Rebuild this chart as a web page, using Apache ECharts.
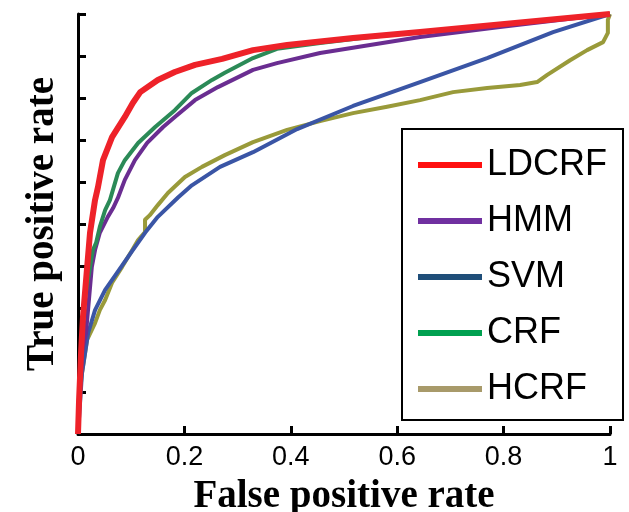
<!DOCTYPE html>
<html>
<head>
<meta charset="utf-8">
<script src="https://cdn.jsdelivr.net/npm/echarts@6/dist/echarts.min.js"></script>
<style>
  html, body { margin: 0; padding: 0; background: #fff; }
  #chart { width: 629px; height: 512px; }
</style>
</head>
<body>
<div id="chart"></div>
<script>
  // ROC curves, [false positive rate, true positive rate]
  var ldcrf = [[0, 0], [0.002, 0.08], [0.006, 0.2], [0.0094, 0.279], [0.0226, 0.479], [0.032, 0.557],
    [0.0376, 0.588], [0.047, 0.652], [0.064, 0.707], [0.088, 0.755], [0.103, 0.788], [0.117, 0.814],
    [0.15, 0.843], [0.182, 0.862], [0.22, 0.879], [0.271, 0.893], [0.329, 0.914], [0.393, 0.926],
    [0.517, 0.943], [0.643, 0.957], [1, 1]]
  var hmm = [[0, 0], [0.003, 0.1], [0.008, 0.2], [0.015, 0.24], [0.026, 0.398], [0.032, 0.438],
    [0.041, 0.479], [0.056, 0.517], [0.066, 0.538], [0.075, 0.562], [0.088, 0.605], [0.107, 0.652],
    [0.13, 0.693], [0.16, 0.731], [0.182, 0.755], [0.22, 0.795], [0.263, 0.826], [0.329, 0.867],
    [0.374, 0.883], [0.455, 0.907], [0.549, 0.926], [0.643, 0.945], [0.793, 0.969], [1, 1]]
  var svm = [[0, 0], [0.0075, 0.145], [0.019, 0.24], [0.032, 0.295], [0.051, 0.343], [0.073, 0.383],
    [0.103, 0.438], [0.126, 0.479], [0.15, 0.517], [0.188, 0.563], [0.214, 0.592], [0.267, 0.636],
    [0.329, 0.671], [0.412, 0.726], [0.517, 0.781], [0.643, 0.838], [0.769, 0.895], [0.893, 0.957], [1, 1]]
  var crf = [[0, 0], [0.004, 0.15], [0.01, 0.3], [0.028, 0.438], [0.034, 0.455], [0.041, 0.493],
    [0.051, 0.533], [0.06, 0.557], [0.075, 0.621], [0.088, 0.652], [0.113, 0.693], [0.145, 0.731],
    [0.182, 0.771], [0.214, 0.812], [0.252, 0.843], [0.276, 0.86], [0.329, 0.895], [0.374, 0.917],
    [0.455, 0.931], [0.549, 0.945], [0.643, 0.957], [1, 1]]
  var hcrf = [[0, 0], [0.002, 0.081], [0.0075, 0.145], [0.017, 0.224], [0.032, 0.264], [0.041, 0.295],
    [0.051, 0.319], [0.064, 0.36], [0.083, 0.398], [0.102, 0.438], [0.113, 0.462], [0.126, 0.481],
    [0.126, 0.51], [0.135, 0.521], [0.15, 0.545], [0.169, 0.574], [0.201, 0.612], [0.233, 0.636],
    [0.276, 0.664], [0.329, 0.695], [0.393, 0.724], [0.455, 0.745], [0.517, 0.764], [0.581, 0.779],
    [0.643, 0.795], [0.705, 0.814], [0.769, 0.824], [0.831, 0.831], [0.863, 0.838], [0.882, 0.855],
    [0.925, 0.89], [0.957, 0.914], [0.987, 0.933], [0.996, 0.955], [0.996, 0.986], [1, 1]]

  var names = ['LDCRF', 'HMM', 'SVM', 'CRF', 'HCRF']
  var lineColors = ['#ee2229', '#6a2d91', '#3a55a5', '#2b8a57', '#999a3a']
  var legendColors = ['#ff1010', '#7030a0', '#1f4e79', '#00a050', '#a89a6a']

  var chart = echarts.init(document.getElementById('chart'))

  function serie(name, data, color, width, z) {
    return {
      name: name,
      type: 'line',
      data: data,
      showSymbol: false,
      symbol: 'none',
      z: z,
      lineStyle: { color: color, width: width, join: 'round' },
      itemStyle: { color: color }
    }
  }

  chart.setOption({
    animation: false,
    backgroundColor: '#fff',
    grid: { left: 78, right: 19, top: 14, bottom: 78, outerBoundsMode: 'none', containLabel: false },
    legend: {
      orient: 'vertical',
      left: 402,
      top: 129,
      padding: [18, 16, 13, 16],
      borderColor: '#000',
      borderWidth: 2,
      backgroundColor: '#fff',
      itemWidth: 64,
      itemHeight: 6,
      itemGap: 20,
      icon: 'rect',
      textStyle: { fontFamily: 'Liberation Sans, Arial', fontSize: 36, lineHeight: 36, color: '#000' },
      data: names.map(function (n, i) {
        return { name: n, icon: 'rect', itemStyle: { color: legendColors[i] } }
      })
    },
    xAxis: {
      type: 'value',
      min: 0,
      max: 1,
      interval: 0.2,
      name: 'False positive rate',
      nameLocation: 'middle',
      nameGap: 43,
      nameTextStyle: { fontFamily: 'Liberation Serif, Times New Roman', fontWeight: 'bold', fontSize: 39, color: '#000' },
      axisLine: { lineStyle: { color: '#000', width: 3 } },
      axisTick: { inside: true, length: 8, lineStyle: { color: '#000', width: 3 } },
      axisLabel: { fontFamily: 'Liberation Sans, Arial', fontSize: 27, color: '#000', margin: 10 },
      splitLine: { show: false }
    },
    yAxis: {
      type: 'value',
      min: 0,
      max: 1,
      interval: 0.1,
      name: 'True positive rate',
      nameLocation: 'middle',
      nameGap: 16,
      nameTextStyle: { fontFamily: 'Liberation Serif, Times New Roman', fontWeight: 'bold', fontSize: 39, color: '#000' },
      axisLine: { lineStyle: { color: '#000', width: 3 } },
      axisTick: { inside: true, length: 8, lineStyle: { color: '#000', width: 3 } },
      axisLabel: { show: false },
      splitLine: { show: false }
    },
    series: [
      serie('LDCRF', ldcrf, lineColors[0], 6, 6),
      serie('HMM', hmm, lineColors[1], 4, 4),
      serie('SVM', svm, lineColors[2], 4, 3),
      serie('CRF', crf, lineColors[3], 4, 5),
      serie('HCRF', hcrf, lineColors[4], 4, 2)
    ]
  })
</script>
</body>
</html>
